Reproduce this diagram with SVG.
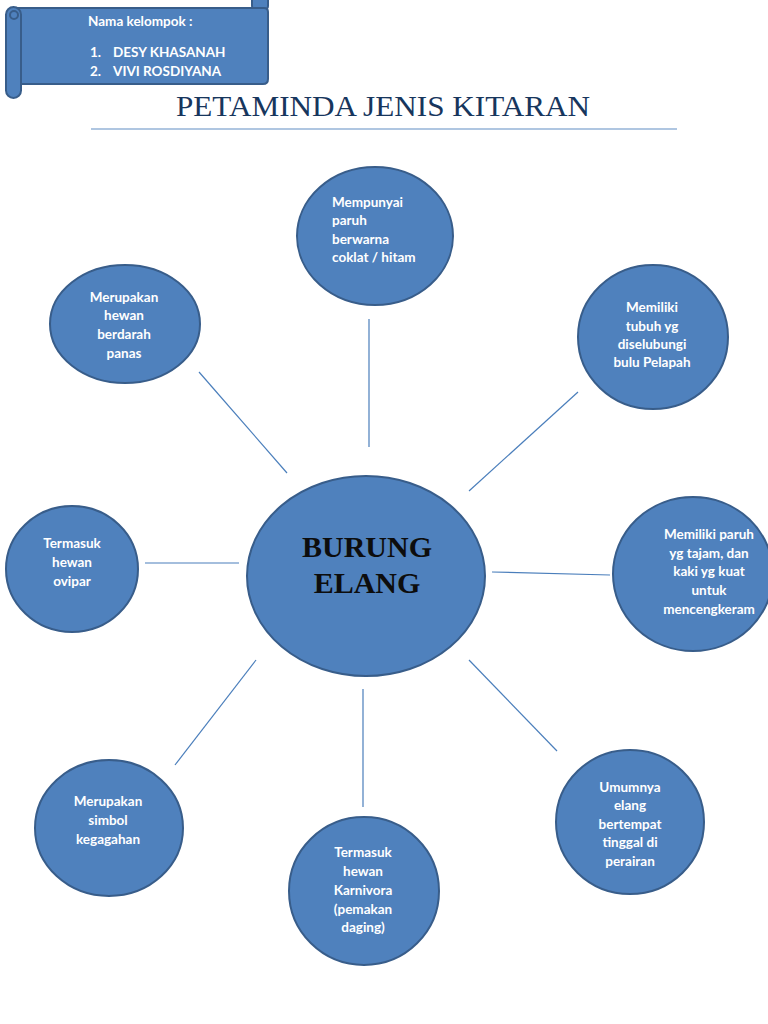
<svg xmlns="http://www.w3.org/2000/svg" width="768" height="1024" viewBox="0 0 768 1024">
<style>
.bub{fill:#4F81BD;stroke:#385D8A;stroke-width:2}
.t{font-family:Lato,"Open Sans","Liberation Sans",sans-serif;font-weight:bold;font-size:13.5px;fill:#FFFFFF;text-anchor:middle}
.tl{text-anchor:start}
.con line{stroke:#4A7EBB;stroke-width:1.2}
</style>
<rect width="768" height="1024" fill="#FFFFFF"/>
<g id="banner">
<rect x="252" y="-8" width="16" height="18" rx="4" class="bub"/>
<path d="M14 8 H264 Q268 8 268 12 V79 Q268 84 263 84 H14 Z" class="bub"/>
<rect x="6" y="7" width="15" height="91" rx="7.5" class="bub"/>
<circle cx="14" cy="15" r="4" class="bub" stroke-width="1.5"/>
<text class="t tl" x="88" y="26">Nama kelompok :</text>
<text class="t tl" x="90" y="57">1.</text>
<text class="t tl" x="113" y="57">DESY KHASANAH</text>
<text class="t tl" x="90" y="76">2.</text>
<text class="t tl" x="113" y="76">VIVI ROSDIYANA</text>
</g>
<g id="title">
<text x="383" y="116" font-family="'Liberation Serif',serif" font-size="30" fill="#17365D" text-anchor="middle" textLength="414" lengthAdjust="spacingAndGlyphs">PETAMINDA JENIS KITARAN</text>
<line x1="91" y1="129" x2="677" y2="129" stroke="#95B3D7" stroke-width="1.5"/>
</g>
<g id="connectors" class="con">
<line x1="199" y1="372" x2="287" y2="473"/>
<line x1="369" y1="319" x2="369" y2="447"/>
<line x1="578" y1="392" x2="469" y2="491"/>
<line x1="145" y1="563" x2="239" y2="563"/>
<line x1="492" y1="572" x2="610" y2="575"/>
<line x1="256" y1="660" x2="175" y2="765"/>
<line x1="363" y1="689" x2="363" y2="807"/>
<line x1="469" y1="660" x2="557" y2="751"/>
</g>
<g id="center">
<ellipse cx="366" cy="576" rx="119" ry="100" class="bub"/>
<text x="367" y="557" font-family="'Liberation Serif',serif" font-weight="bold" font-size="30" fill="#0D0D0D" text-anchor="middle">BURUNG</text>
<text x="367" y="593" font-family="'Liberation Serif',serif" font-weight="bold" font-size="30" fill="#0D0D0D" text-anchor="middle">ELANG</text>
</g>
<g id="n-paruh">
<ellipse cx="375" cy="236" rx="78" ry="69" class="bub"/>
<text class="t tl" x="332" y="207">Mempunyai</text>
<text class="t tl" x="332" y="225">paruh</text>
<text class="t tl" x="332" y="244">berwarna</text>
<text class="t tl" x="332" y="262">coklat / hitam</text>
</g>
<g id="n-panas">
<ellipse cx="125" cy="324" rx="75" ry="59" class="bub"/>
<text class="t" x="124" y="302">Merupakan</text>
<text class="t" x="124" y="320">hewan</text>
<text class="t" x="124" y="339">berdarah</text>
<text class="t" x="124" y="358">panas</text>
</g>
<g id="n-bulu">
<ellipse cx="653" cy="337" rx="75" ry="72" class="bub"/>
<text class="t" x="652" y="312">Memiliki</text>
<text class="t" x="652" y="331">tubuh yg</text>
<text class="t" x="652" y="349">diselubungi</text>
<text class="t" x="652" y="367">bulu Pelapah</text>
</g>
<g id="n-ovipar">
<ellipse cx="72" cy="569" rx="66" ry="63" class="bub"/>
<text class="t" x="72" y="548">Termasuk</text>
<text class="t" x="72" y="567">hewan</text>
<text class="t" x="72" y="586">ovipar</text>
</g>
<g id="n-kaki">
<ellipse cx="693" cy="574" rx="80" ry="77" class="bub"/>
<text class="t" x="709" y="539">Memiliki paruh</text>
<text class="t" x="709" y="558">yg tajam, dan</text>
<text class="t" x="709" y="576">kaki yg kuat</text>
<text class="t" x="709" y="595">untuk</text>
<text class="t" x="709" y="614">mencengkeram</text>
</g>
<g id="n-simbol">
<ellipse cx="109" cy="828" rx="74" ry="68" class="bub"/>
<text class="t" x="108" y="806">Merupakan</text>
<text class="t" x="108" y="825">simbol</text>
<text class="t" x="108" y="844">kegagahan</text>
</g>
<g id="n-karnivora">
<ellipse cx="364" cy="891" rx="75" ry="74" class="bub"/>
<text class="t" x="363" y="857">Termasuk</text>
<text class="t" x="363" y="876">hewan</text>
<text class="t" x="363" y="895">Karnivora</text>
<text class="t" x="363" y="914">(pemakan</text>
<text class="t" x="363" y="932">daging)</text>
</g>
<g id="n-perairan">
<ellipse cx="630" cy="822" rx="74" ry="72" class="bub"/>
<text class="t" x="630" y="792">Umumnya</text>
<text class="t" x="630" y="810">elang</text>
<text class="t" x="630" y="829">bertempat</text>
<text class="t" x="630" y="847">tinggal di</text>
<text class="t" x="630" y="866">perairan</text>
</g>
</svg>
